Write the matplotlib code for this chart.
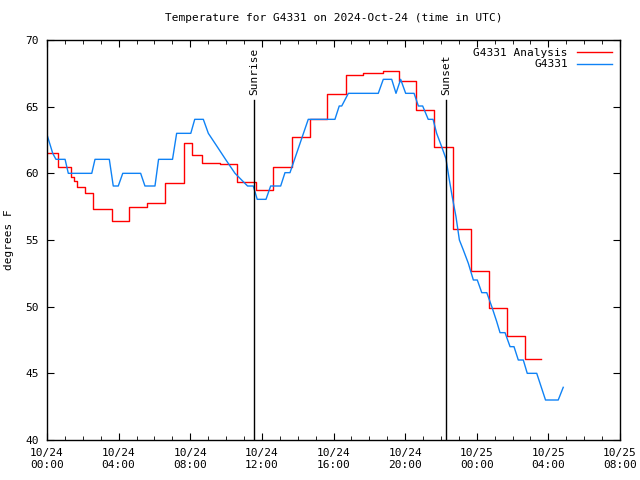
import matplotlib
matplotlib.use('Agg')
import matplotlib.pyplot as plt
from matplotlib.ticker import MultipleLocator

# hours since 2024-10-24 00:00 UTC
ana_t = [0.0, 0.61, 1.34, 1.51, 1.68, 2.12, 2.57, 3.63, 4.58, 5.58, 6.59, 7.65,
         8.10, 8.66, 9.66, 10.61, 11.67, 12.62, 13.68, 14.69, 15.64, 16.70, 17.65,
         18.76, 19.66, 20.61, 21.61, 22.67, 23.68, 24.68, 25.69, 26.69, 27.57]
ana_v = [61.5, 60.45, 59.7, 59.4, 58.95, 58.5, 57.3, 56.4, 57.45, 57.75, 59.3, 62.3,
         61.4, 60.8, 60.7, 59.35, 58.75, 60.45, 62.7, 64.05, 65.95, 67.35, 67.5,
         67.7, 66.9, 64.75, 61.95, 55.8, 52.65, 49.9, 47.8, 46.1, 46.1]

obs_t = [0.0, 0.32, 0.50, 1.01, 1.19, 2.50, 2.68, 3.48, 3.70, 3.98, 4.23, 5.23,
         5.47, 6.03, 6.23, 7.01, 7.24, 8.03, 8.25, 8.73, 9.01, 9.48, 9.97, 10.50,
         11.20, 11.52, 11.74, 12.23, 12.49, 13.05, 13.29, 13.57, 14.59, 16.08,
         16.32, 16.46, 16.83, 18.50, 18.78, 19.25, 19.49, 19.75, 20.03, 20.50,
         20.74, 20.98, 21.29, 21.56, 21.76, 22.04, 22.28, 22.47, 22.63, 22.84,
         23.03, 23.25, 23.53, 23.81, 24.03, 24.28, 24.56, 24.84, 25.11, 25.30,
         25.58, 25.86, 26.08, 26.32, 26.60, 26.82, 27.35, 27.84, 28.55, 28.83]
obs_v = [62.9, 61.5, 61.05, 61.05, 60.0, 60.0, 61.05, 61.05, 59.05, 59.05, 60.0, 60.0,
         59.05, 59.05, 61.05, 61.05, 63.0, 63.0, 64.05, 64.05, 63.0, 62.05, 61.05, 60.0,
         59.05, 59.05, 58.05, 58.05, 59.05, 59.05, 60.05, 60.05, 64.05, 64.05,
         65.05, 65.05, 66.0, 66.0, 67.05, 67.05, 66.0, 67.05, 66.0, 66.0,
         65.05, 65.05, 64.05, 64.05, 63.0, 62.0, 61.1, 59.5, 58.25, 56.75,
         55.0, 54.25, 53.25, 52.0, 52.0, 51.05, 51.05, 50.0, 48.9, 48.05,
         48.05, 47.0, 47.0, 46.0, 46.0, 45.0, 45.0, 43.0, 43.0, 43.95]

sunrise = 11.56
sunset = 22.28

xticks = [0, 4, 8, 12, 16, 20, 24, 28, 32]
xlabels = ['10/24\n00:00', '10/24\n04:00', '10/24\n08:00', '10/24\n12:00',
           '10/24\n16:00', '10/24\n20:00', '10/25\n00:00', '10/25\n04:00',
           '10/25\n08:00']

plt.rcParams['font.family'] = ['DejaVu Sans Mono']
plt.rcParams['font.size'] = 8

fig = plt.figure(figsize=(6.4, 4.8), dpi=100)
ax = fig.add_axes([47 / 640, 40 / 480, 573 / 640, 400 / 480])

ax.plot(ana_t, ana_v, color='#ff0000', lw=1.0, drawstyle='steps-post', label='G4331 Analysis')
ax.plot(obs_t, obs_v, color='#0f82f5', lw=1.0, label='G4331')

for t, name in [(sunrise, 'Sunrise'), (sunset, 'Sunset')]:
    ax.plot([t, t], [40, 65.5], color='black', lw=1.0)
    ax.text(t, 65.9, name, rotation=90, ha='center', va='bottom', fontsize=8)

ax.set_xlim(0, 32)
ax.set_ylim(40, 70)
ax.set_xticks(xticks)
ax.set_xticklabels(xlabels)
ax.xaxis.set_minor_locator(MultipleLocator(1))
ax.set_yticks(range(40, 71, 5))
ax.tick_params(which='both', direction='in', top=True, right=True, pad=6)
ax.tick_params(which='major', length=5)
ax.tick_params(which='minor', length=3)
for s in ax.spines.values():
    s.set_linewidth(1.0)

ax.set_title('Temperature for G4331 on 2024-Oct-24 (time in UTC)', fontsize=8, pad=14)
ax.set_ylabel('degrees F', fontsize=8, labelpad=8)

ax.legend(loc='upper right', frameon=False, markerfirst=False, fontsize=8,
          handlelength=3.2, borderaxespad=0.3, labelspacing=0.15, handletextpad=0.8)

plt.savefig('out.png', dpi=100)
